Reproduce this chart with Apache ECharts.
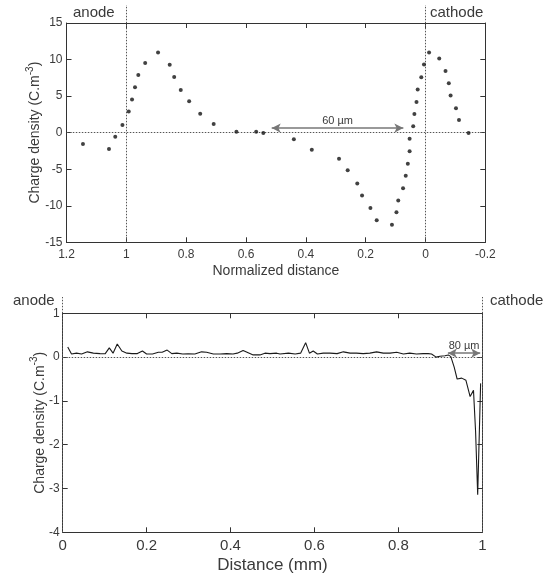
<!DOCTYPE html>
<html><head><meta charset="utf-8">
<script src="https://cdn.jsdelivr.net/npm/echarts@6/dist/echarts.min.js"></script>
<style>html,body{margin:0;padding:0;background:#fff}#c{width:543px;height:582px}</style>
</head><body><div id="c"></div>
<script>
// Top chart: normalized distance vs charge density (scatter)
const topX = [1.145,1.058,1.037,1.013,0.992,0.981,0.971,0.96,0.937,0.894,0.855,0.84,0.818,0.79,0.753,0.708,0.632,0.566,0.542,0.44,0.38,0.289,0.26,0.228,0.212,0.184,0.163,0.112,0.097,0.091,0.075,0.066,0.059,0.053,0.053,0.041,0.037,0.030,0.026,0.014,0.005,-0.012,-0.046,-0.067,-0.078,-0.084,-0.102,-0.112,-0.144];
const topY = [-1.56,-2.24,-0.55,1.04,2.88,4.52,6.2,7.9,9.53,10.96,9.3,7.6,5.84,4.29,2.6,1.18,0.14,0.14,-0.05,-0.9,-2.33,-3.57,-5.16,-6.94,-8.6,-10.3,-12.0,-12.6,-10.9,-9.27,-7.6,-5.9,-4.25,-2.56,-0.83,0.86,2.55,4.19,5.89,7.58,9.31,10.96,10.14,8.44,6.75,5.07,3.33,1.73,-0.05];
const topArrow = [[0.514,0.63],[0.074,0.63]];
const topArrowLabel = '60 µm';
const topElectrodes = [1, 0];

// Bottom chart: distance (mm) vs charge density (line)
const botX = [0.012,0.021,0.033,0.045,0.059,0.073,0.089,0.101,0.111,0.12,0.13,0.141,0.153,0.165,0.178,0.19,0.2,0.214,0.228,0.237,0.249,0.26,0.272,0.286,0.299,0.315,0.331,0.343,0.359,0.375,0.391,0.406,0.416,0.43,0.442,0.454,0.47,0.482,0.494,0.51,0.518,0.538,0.554,0.567,0.579,0.588,0.597,0.607,0.621,0.637,0.654,0.669,0.685,0.7,0.716,0.732,0.748,0.764,0.78,0.796,0.812,0.827,0.843,0.859,0.871,0.879,0.89,0.899,0.911,0.919,0.925,0.933,0.94,0.951,0.961,0.971,0.979,0.984,0.989,0.99,0.996];
const botY = [0.23,0.07,0.09,0.07,0.12,0.09,0.08,0.075,0.21,0.09,0.30,0.14,0.09,0.08,0.08,0.14,0.07,0.07,0.11,0.11,0.16,0.08,0.09,0.07,0.075,0.07,0.12,0.11,0.07,0.07,0.08,0.07,0.09,0.15,0.1,0.05,0.05,0.09,0.08,0.09,0.07,0.09,0.07,0.09,0.33,0.09,0.14,0.07,0.09,0.09,0.08,0.12,0.09,0.09,0.08,0.09,0.12,0.09,0.09,0.11,0.07,0.09,0.07,0.08,0.08,0.07,0.0,0.02,0.03,0.05,0.01,-0.23,-0.5,-0.48,-0.53,-0.9,-0.76,-1.7,-3.14,-3.14,-0.6];
const botArrow = [[0.918,0.09],[0.995,0.09]];
const botArrowLabel = '80 µm';
const botElectrodes = [0, 1];

const yName = 'Charge density (C.m{s|-3})';
const topXName = 'Normalized distance';
const botXName = 'Distance (mm)';

const FONT = "'Liberation Sans', Arial, sans-serif";
const AX = '#333';
const TXT = '#3a3a3a';

function mainAxisX(grid, opts) {
  return Object.assign({
    type: 'value', gridIndex: grid,
    axisLine: {show: true, onZero: false, lineStyle: {color: AX, width: 1}},
    axisTick: {show: true, inside: true, length: 5, lineStyle: {color: AX}},
    splitLine: {show: false},
  }, opts);
}
function richName(size) {
  return {fontFamily: FONT, fontSize: size, color: TXT, lineHeight: size + 6,
    rich: {s: {fontFamily: FONT, fontSize: Math.round(size * 0.7), color: TXT, verticalAlign: 'top', lineHeight: size + 6}}};
}

const topPts = topX.map((x, i) => [x, topY[i]]);
const botPts = botX.map((x, i) => [x, botY[i]]);

const dotted = {color: '#555', type: [1.5, 1.5], width: 1};
const arrowStyle = {color: '#777', width: 1.6, type: 'solid'};

const option = {
  animation: false,
  backgroundColor: '#fff',
  textStyle: {fontFamily: FONT},
  grid: [
    {left: 66.5, right: 57.7, top: 23, height: 219.3},
    {left: 66.5, right: 57.7, top: 5, height: 237.3},
    {left: 62.7, right: 60.7, top: 313.3, height: 219},
    {left: 62.7, right: 60.7, top: 297, height: 235.3}
  ],
  xAxis: [
    mainAxisX(0, {min: -0.2, max: 1.2, interval: 0.2, inverse: true, position: 'bottom',
      axisLabel: {fontSize: 12, color: TXT, margin: 6, fontFamily: FONT},
      name: topXName, nameLocation: 'middle', nameGap: 22, nameMoveOverlap: false,
      nameTextStyle: {fontSize: 14, color: TXT, fontFamily: FONT}}),
    mainAxisX(0, {min: -0.2, max: 1.2, interval: 0.2, inverse: true, position: 'top', axisLabel: {show: false}}),
    {type: 'value', gridIndex: 1, min: -0.2, max: 1.2, inverse: true, show: false},
    mainAxisX(2, {min: 0, max: 1, interval: 0.2, position: 'bottom',
      axisLabel: {fontSize: 15, color: TXT, margin: 6, fontFamily: FONT},
      name: botXName, nameLocation: 'middle', nameGap: 25, nameMoveOverlap: false,
      nameTextStyle: {fontSize: 17, color: TXT, fontFamily: FONT}}),
    mainAxisX(2, {min: 0, max: 1, interval: 0.2, position: 'top', axisLabel: {show: false}}),
    {type: 'value', gridIndex: 3, min: 0, max: 1, show: false}
  ],
  yAxis: [
    mainAxisX(0, {min: -15, max: 15, interval: 5, position: 'left',
      axisLabel: {fontSize: 12, color: TXT, margin: 4, fontFamily: FONT},
      name: yName, nameLocation: 'middle', nameGap: 21, nameRotate: 90, nameMoveOverlap: false,
      nameTextStyle: richName(14)}),
    mainAxisX(0, {min: -15, max: 15, interval: 5, position: 'right', axisLabel: {show: false}}),
    {type: 'value', gridIndex: 1, min: 0, max: 1, show: false},
    mainAxisX(2, {min: -4, max: 1, interval: 1, position: 'left',
      axisLabel: {fontSize: 12, color: TXT, margin: 3, fontFamily: FONT},
      name: yName, nameLocation: 'middle', nameGap: 13, nameRotate: 90, nameMoveOverlap: false,
      nameTextStyle: richName(14)}),
    mainAxisX(2, {min: -4, max: 1, interval: 1, position: 'right', axisLabel: {show: false}}),
    {type: 'value', gridIndex: 3, min: 0, max: 1, show: false}
  ],
  series: [
    {type: 'scatter', xAxisIndex: 0, yAxisIndex: 0, data: topPts, symbol: 'circle', symbolSize: 4,
      itemStyle: {color: '#111'}, z: 5,
      markLine: {silent: true, symbol: 'none', label: {show: false}, lineStyle: dotted, data: [{yAxis: 0}]}},
    {type: 'line', xAxisIndex: 0, yAxisIndex: 0, data: [], z: 4,
      markLine: {silent: true, symbol: ['arrow', 'arrow'], symbolSize: [7, 9], lineStyle: arrowStyle,
        label: {show: true, position: 'middle', formatter: topArrowLabel, fontSize: 11, color: TXT, fontFamily: FONT, distance: 2},
        data: [[{coord: topArrow[0]}, {coord: topArrow[1]}]]}},
    {type: 'line', xAxisIndex: 2, yAxisIndex: 2, data: [], z: 3,
      markLine: {silent: true, symbol: 'none', label: {show: false}, lineStyle: dotted,
        data: topElectrodes.map(v => ({xAxis: v}))}},
    {type: 'line', xAxisIndex: 3, yAxisIndex: 3, data: botPts, symbol: 'none', z: 5,
      lineStyle: {color: '#1a1a1a', width: 1.1},
      markLine: {silent: true, symbol: 'none', label: {show: false}, lineStyle: dotted, data: [{yAxis: 0}]}},
    {type: 'line', xAxisIndex: 3, yAxisIndex: 3, data: [], z: 4,
      markLine: {silent: true, symbol: ['arrow', 'arrow'], symbolSize: [7, 9], lineStyle: arrowStyle,
        label: {show: true, position: 'middle', formatter: botArrowLabel, fontSize: 11, color: TXT, fontFamily: FONT, distance: 2},
        data: [[{coord: botArrow[0]}, {coord: botArrow[1]}]]}},
    {type: 'line', xAxisIndex: 5, yAxisIndex: 5, data: [], z: 3,
      markLine: {silent: true, symbol: 'none', label: {show: false}, lineStyle: dotted,
        data: botElectrodes.map(v => ({xAxis: v}))}}
  ],
  graphic: [
    {type: 'text', left: 73, top: 5, style: {text: 'anode', fontSize: 15, fill: TXT, fontFamily: FONT}},
    {type: 'text', left: 430, top: 5, style: {text: 'cathode', fontSize: 15, fill: TXT, fontFamily: FONT}},
    {type: 'text', left: 13, top: 293, style: {text: 'anode', fontSize: 15, fill: TXT, fontFamily: FONT}},
    {type: 'text', left: 490, top: 293, style: {text: 'cathode', fontSize: 15, fill: TXT, fontFamily: FONT}}
  ]
};
const chart = echarts.init(document.getElementById('c'), null, {renderer: 'canvas'});
chart.setOption(option);
</script></body></html>
